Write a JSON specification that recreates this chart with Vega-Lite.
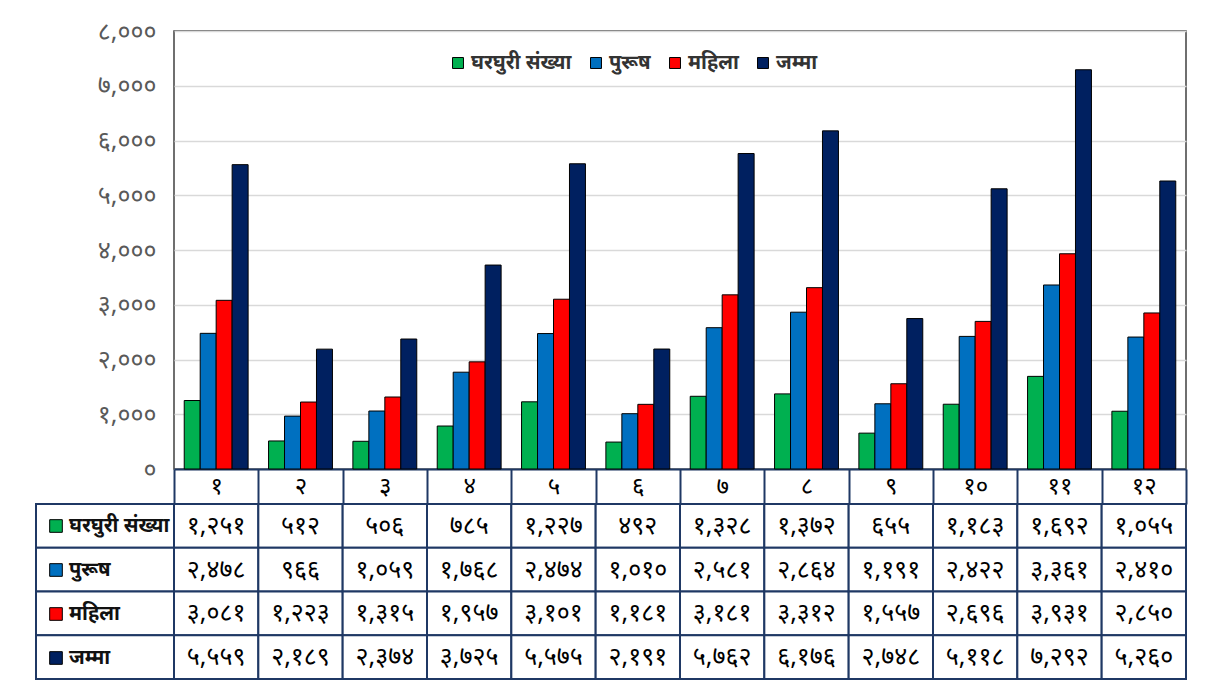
{
  "$schema": "https://vega.github.io/schema/vega-lite/v6.json",
  "padding": {"left": 35, "top": 18, "right": 20, "bottom": 0},
  "background": "white",
  "config": {"font": "Noto Sans", "view": {"stroke": null}},
  "datasets": {
    "d": [
      {"ward": "१", "series": "घरघुरी संख्या", "value": 1251}, {"ward": "१", "series": "पुरूष", "value": 2478}, {"ward": "१", "series": "महिला", "value": 3081}, {"ward": "१", "series": "जम्मा", "value": 5559},
      {"ward": "२", "series": "घरघुरी संख्या", "value": 512}, {"ward": "२", "series": "पुरूष", "value": 966}, {"ward": "२", "series": "महिला", "value": 1223}, {"ward": "२", "series": "जम्मा", "value": 2189},
      {"ward": "३", "series": "घरघुरी संख्या", "value": 506}, {"ward": "३", "series": "पुरूष", "value": 1059}, {"ward": "३", "series": "महिला", "value": 1315}, {"ward": "३", "series": "जम्मा", "value": 2374},
      {"ward": "४", "series": "घरघुरी संख्या", "value": 785}, {"ward": "४", "series": "पुरूष", "value": 1768}, {"ward": "४", "series": "महिला", "value": 1957}, {"ward": "४", "series": "जम्मा", "value": 3725},
      {"ward": "५", "series": "घरघुरी संख्या", "value": 1227}, {"ward": "५", "series": "पुरूष", "value": 2474}, {"ward": "५", "series": "महिला", "value": 3101}, {"ward": "५", "series": "जम्मा", "value": 5575},
      {"ward": "६", "series": "घरघुरी संख्या", "value": 492}, {"ward": "६", "series": "पुरूष", "value": 1010}, {"ward": "६", "series": "महिला", "value": 1181}, {"ward": "६", "series": "जम्मा", "value": 2191},
      {"ward": "७", "series": "घरघुरी संख्या", "value": 1328}, {"ward": "७", "series": "पुरूष", "value": 2581}, {"ward": "७", "series": "महिला", "value": 3181}, {"ward": "७", "series": "जम्मा", "value": 5762},
      {"ward": "८", "series": "घरघुरी संख्या", "value": 1372}, {"ward": "८", "series": "पुरूष", "value": 2864}, {"ward": "८", "series": "महिला", "value": 3312}, {"ward": "८", "series": "जम्मा", "value": 6176},
      {"ward": "९", "series": "घरघुरी संख्या", "value": 655}, {"ward": "९", "series": "पुरूष", "value": 1191}, {"ward": "९", "series": "महिला", "value": 1557}, {"ward": "९", "series": "जम्मा", "value": 2748},
      {"ward": "१०", "series": "घरघुरी संख्या", "value": 1183}, {"ward": "१०", "series": "पुरूष", "value": 2422}, {"ward": "१०", "series": "महिला", "value": 2696}, {"ward": "१०", "series": "जम्मा", "value": 5118},
      {"ward": "११", "series": "घरघुरी संख्या", "value": 1692}, {"ward": "११", "series": "पुरूष", "value": 3361}, {"ward": "११", "series": "महिला", "value": 3931}, {"ward": "११", "series": "जम्मा", "value": 7292},
      {"ward": "१२", "series": "घरघुरी संख्या", "value": 1055}, {"ward": "१२", "series": "पुरूष", "value": 2410}, {"ward": "१२", "series": "महिला", "value": 2850}, {"ward": "१२", "series": "जम्मा", "value": 5260}
    ]
  },
  "columns": 2,
  "spacing": {"row": 35, "column": 0},
  "bounds": "flush",
  "resolve": {"legend": {"color": "independent"}},
  "concat": [
    {
      "width": 138,
      "height": 438,
      "data": {"name": "d"},
      "mark": {"type": "point", "opacity": 0},
      "encoding": {}
    },
    {
      "width": 1012,
      "height": 438,
      "view": {"stroke": "#404040", "strokeWidth": 1.5},
      "data": {"name": "d"},
      "mark": {"type": "bar", "stroke": "black", "strokeWidth": 1},
      "encoding": {
        "x": {
          "field": "ward", "type": "nominal",
          "sort": ["१","२","३","४","५","६","७","८","९","१०","११","१२"],
          "scale": {"paddingInner": 0, "paddingOuter": 0},
          "axis": {"title": null, "labelAngle": 0, "tickBand": "extent", "tickSize": 35, "tickColor": "#1f3864", "tickWidth": 2, "domainColor": "#1f3864", "domainWidth": 2, "labelPadding": -17.5, "labelBaseline": "middle", "labelFontSize": 24, "labelColor": "#000000", "grid": false}
        },
        "xOffset": {
          "field": "series", "type": "nominal",
          "sort": ["घरघुरी संख्या", "पुरूष", "महिला", "जम्मा"],
          "scale": {"paddingInner": 0, "paddingOuter": 0.64}
        },
        "y": {
          "field": "value", "type": "quantitative",
          "scale": {"domain": [0, 8000]},
          "axis": {"title": null, "values": [0,1000,2000,3000,4000,5000,6000,7000,8000], "format": ",d", "labelExpr": "replace(replace(replace(replace(replace(replace(replace(replace(replace(replace(datum.label,regexp('0','g'),'०'),regexp('1','g'),'१'),regexp('2','g'),'२'),regexp('3','g'),'३'),regexp('4','g'),'४'),regexp('5','g'),'५'),regexp('6','g'),'६'),regexp('7','g'),'७'),regexp('8','g'),'८'),regexp('9','g'),'९')", "ticks": false, "domain": false, "labelPadding": 18, "labelFontSize": 25, "labelColor": "#595959", "gridColor": "#d9d9d9", "gridWidth": 1.5}
        },
        "color": {
          "field": "series", "type": "nominal",
          "scale": {"domain": ["घरघुरी संख्या", "पुरूष", "महिला", "जम्मा"], "range": ["#00b050", "#0070c0", "#ff0000", "#002060"]},
          "legend": {"title": null, "orient": "none", "legendX": 274, "legendY": 22, "direction": "horizontal", "columns": 4, "symbolType": "square", "symbolSize": 120, "symbolStrokeColor": "black", "symbolStrokeWidth": 1, "labelFontSize": 20, "labelFontWeight": "bold", "labelColor": "#333333", "columnPadding": 14, "labelOffset": 3, "labelLimit": 300}
        }
      }
    },
    {
      "width": 138,
      "height": 175,
      "data": {"name": "d"},
      "transform": [{"filter": "datum.ward == '१'"}],
      "encoding": {
        "y": {"field": "series", "type": "nominal", "sort": ["घरघुरी संख्या", "पुरूष", "महिला", "जम्मा"], "axis": null, "scale": {"paddingInner": 0, "paddingOuter": 0}}
      },
      "layer": [
        {
          "mark": {"type": "rect", "stroke": "black", "strokeWidth": 1},
          "encoding": {
            "color": {
              "field": "series", "type": "nominal",
              "scale": {"domain": ["घरघुरी संख्या", "पुरूष", "महिला", "जम्मा"], "range": ["#00b050", "#0070c0", "#ff0000", "#002060"]},
              "legend": {"title": null, "orient": "none", "legendX": 10, "legendY": 12, "direction": "vertical", "symbolType": "square", "symbolSize": 160, "symbolStrokeColor": "black", "symbolStrokeWidth": 1, "labelFontSize": 20, "labelFontWeight": "bold", "labelColor": "#111111", "rowPadding": 24, "labelOffset": 3, "labelLimit": 200}
            }
          }
        },
        {
          "mark": {"type": "rect", "fill": "white", "stroke": "#1f3864", "strokeWidth": 2}
        }
      ]
    },
    {
      "width": 1012,
      "height": 175,
      "data": {"name": "d"},
      "encoding": {
        "x": {"field": "ward", "type": "nominal", "sort": ["१","२","३","४","५","६","७","८","९","१०","११","१२"], "axis": null, "scale": {"paddingInner": 0, "paddingOuter": 0}},
        "y": {"field": "series", "type": "nominal", "sort": ["घरघुरी संख्या", "पुरूष", "महिला", "जम्मा"], "axis": null, "scale": {"paddingInner": 0, "paddingOuter": 0}}
      },
      "layer": [
        {"mark": {"type": "rect", "fill": "white", "stroke": "#1f3864", "strokeWidth": 2}},
        {"mark": {"type": "text", "fontSize": 25, "color": "#000000", "text": {"expr": "replace(replace(replace(replace(replace(replace(replace(replace(replace(replace(format(datum.value, ','),regexp('0','g'),'०'),regexp('1','g'),'१'),regexp('2','g'),'२'),regexp('3','g'),'३'),regexp('4','g'),'४'),regexp('5','g'),'५'),regexp('6','g'),'६'),regexp('7','g'),'७'),regexp('8','g'),'८'),regexp('9','g'),'९')"}}}
      ]
    }
  ]
}
